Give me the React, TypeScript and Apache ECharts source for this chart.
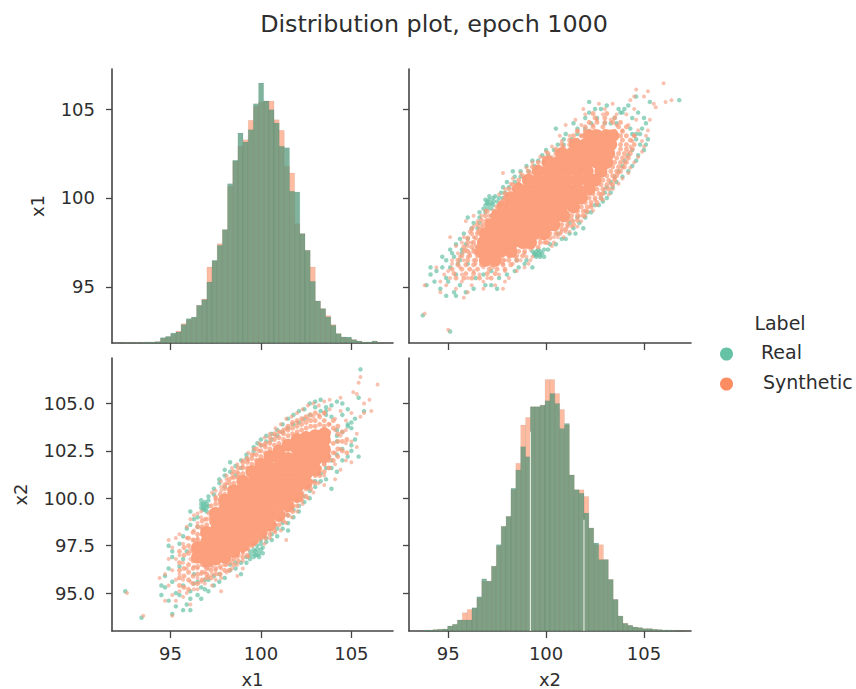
import React, { useEffect, useRef } from "react";
import * as echarts from "echarts";

const REAL = "#66c2a5";
const SYNTH = "#fc8d62";
const FONT = "DejaVu Sans";
const TEXT = "#2e2e2e";

const title = "Distribution plot, epoch 1000";
const legendTitle = "Label";
const legendLabels = ["Real", "Synthetic"];
const x1Ticks = [95, 100, 105];
const x2Ticks = [95, 100, 105];
const x1LeftTicks = [95, 100, 105];
const x2LeftTicks = [95, 97.5, 100, 102.5, 105];

// histogram of x1: first bin edge, bin width, counts
const x1BinStart = 92.163;
const x1BinWidth = 0.2854;
const x1RealCounts = [1, 2, 2, 2, 2, 3, 3, 4, 16, 20, 30, 33, 55, 73, 78, 113, 130, 183, 248, 293, 340, 478, 548, 630, 603, 640, 718, 780, 726, 700, 660, 590, 586, 455, 453, 328, 278, 185, 126, 103, 78, 53, 28, 18, 18, 10, 6, 3, 3, 6, 2];
const x1SynthCounts = [1, 2, 2, 2, 2, 3, 3, 4, 14, 18, 26, 36, 58, 70, 76, 113, 132, 228, 246, 298, 340, 470, 545, 590, 610, 668, 710, 723, 726, 726, 670, 638, 530, 510, 358, 328, 278, 228, 126, 103, 82, 55, 28, 18, 15, 10, 6, 3, 3, 6, 2];

// histogram of x2
const x2BinStart = 93.731;
const x2BinWidth = 0.2486;
const x2RealCounts = [3, 3, 4, 5, 6, 15, 20, 33, 33, 33, 70, 103, 157, 150, 195, 260, 315, 345, 430, 485, 555, 525, 675, 675, 680, 693, 715, 685, 610, 625, 470, 425, 415, 355, 310, 265, 215, 215, 155, 95, 45, 23, 17, 12, 10, 7, 7, 5, 4, 3, 3, 2, 1, 1];
const x2SynthCounts = [2, 3, 4, 5, 6, 15, 20, 33, 55, 65, 68, 100, 150, 150, 195, 255, 315, 345, 425, 505, 620, 643, 675, 675, 680, 757, 757, 715, 667, 620, 470, 425, 425, 405, 310, 260, 260, 215, 155, 95, 45, 23, 17, 12, 10, 7, 7, 5, 4, 3, 3, 2, 1, 1];
// empty slivers between bins of x2: [position, height]
const x2Slivers = [[99.2, 600], [101.935, 335]];

// scatter columns: first number is x1, the rest are x2 values
const realColumns = [
  [92.5, 95.1], [93.4, 93.7], [94.5, 95.4, 94.9], [94.7, 95.9, 95.3], [94.9, 96.3, 97.5, 94.6],
  [95.1, 93.9, 96.9, 95.6, 97.2], [95.3, 95.0, 94.3], [95.5, 97.6, 96.4, 94.9], [95.7, 98.0, 95.4, 94.1, 96.8],
  [95.9, 94.4, 97.2, 98.4], [96.1, 94.1, 95.1, 94.7, 99.3, 98.6], [96.3, 96.0, 95.5, 98.9], [96.5, 94.9, 95.6, 99.0, 98.5],
  [96.7, 94.7, 95.3, 99.5, 99.7, 99.9], [96.8, 99.5, 99.7, 99.4], [96.9, 99.6, 99.4, 99.8, 95.7, 95.2], [97.0, 99.5, 99.3, 99.7], [97.1, 99.9, 99.6, 95.1, 100.1, 95.7],
  [97.4, 100.2, 100.5, 95.4, 95.9], [97.7, 100.8, 101.0, 95.6, 96.0], [98.0, 101.2, 100.6, 101.5, 95.8],
  [98.3, 101.4, 101.9, 96.2, 96.5], [98.6, 101.7, 101.2, 96.3, 96.6], [98.9, 102.0, 101.6, 96.6, 96.0],
  [99.2, 102.3, 102.1, 96.9, 96.6], [99.4, 97.0, 97.2, 96.8], [99.6, 97.1, 96.9, 97.3, 102.5, 102.7],
  [99.7, 97.0, 97.2], [99.8, 97.0, 97.3, 97.5, 102.9], [99.9, 96.9, 97.1], [100.0, 97.3, 97.6, 97.8, 103.1, 102.8], [100.1, 97.1, 97.4], [100.3, 103.0, 103.3, 97.7, 97.9],
  [100.6, 103.4, 103.1, 98.1, 97.8], [100.9, 103.6, 103.3, 98.0, 98.4], [101.2, 103.9, 103.5, 98.4, 98.7],
  [101.5, 104.2, 103.7, 98.7, 98.3, 99.1], [101.8, 104.4, 103.9, 99.0, 99.4], [102.1, 104.6, 104.0, 99.3, 99.6],
  [102.4, 104.7, 104.2, 100.1, 99.8], [102.7, 105.0, 104.4, 100.4, 100.0], [103.0, 104.8, 105.1, 100.6, 100.9],
  [103.3, 104.6, 105.2, 100.9, 101.3], [103.6, 104.6, 104.4, 104.8, 101.0, 101.6], [103.9, 104.9, 104.3, 100.5, 101.6, 102.0],
  [104.2, 103.3, 103.0, 103.6, 105.1, 101.4, 102.3], [104.5, 103.5, 102.0, 102.6, 104.4, 105.0], [104.8, 103.8, 103.9, 102.2, 104.7],
  [105.0, 104.0, 103.7, 102.5, 102.8], [105.2, 104.2, 103.1], [105.4, 102.2, 105.3], [105.5, 106.8], [105.7, 104.6],
];
const synthColumns = [
  [92.6, 95.0], [93.5, 93.8], [94.4, 95.8], [94.7, 96.0, 94.6], [94.9, 95.4, 97.8, 96.8], [95.1, 96.2, 94.9, 97.4, 93.8],
  [95.3, 96.8, 95.7, 94.6, 97.9], [95.5, 96.0, 95.1, 97.0, 98.1], [95.7, 95.7, 94.8, 97.6, 96.6], [95.9, 96.3, 95.0, 98.5, 97.9],
  [96.1, 95.6, 94.4, 98.9, 97.3, 96.8], [96.3, 95.2, 96.4, 99.1, 98.3, 97.8], [96.5, 95.8, 95.2, 96.3, 98.7, 99.2, 97.9],
  [96.7, 96.0, 95.6, 98.4, 99.0, 99.3], [96.9, 96.1, 95.5, 96.4, 98.9], [97.1, 95.9, 96.3, 99.2],
  [97.3, 96.0, 95.4, 96.4, 100.3], [97.5, 96.2, 95.7, 100.1, 100.4, 99.9], [97.8, 96.3, 95.8, 95.1, 100.4, 100.9, 100.6],
  [98.1, 96.5, 96.1, 100.8, 101.2, 101.0], [98.4, 96.7, 96.3, 101.1, 101.6, 101.3], [98.7, 96.9, 96.5, 101.4, 101.8, 95.9],
  [99.0, 97.1, 96.7, 101.7, 102.0, 96.3], [99.3, 97.3, 96.9, 102.0, 102.4], [99.6, 97.6, 102.3, 102.6],
  [99.9, 97.8, 102.5, 102.9], [100.2, 98.0, 97.6, 102.8, 103.2], [100.5, 98.3, 97.9, 103.0, 103.4],
  [100.8, 98.6, 98.2, 103.3, 103.7], [101.1, 98.9, 98.3, 103.5, 103.9], [101.4, 99.2, 98.7, 103.7, 104.2, 97.8],
  [101.7, 99.5, 99.0, 103.9, 104.3], [102.0, 99.9, 99.3, 104.0, 104.5], [102.3, 100.3, 99.7, 104.1, 104.7],
  [102.6, 100.6, 100.0, 104.2, 104.9], [102.9, 100.9, 100.3, 104.3, 105.0], [103.2, 101.3, 100.8, 104.4, 104.9],
  [103.5, 101.8, 101.2, 104.5, 105.1, 100.7], [103.8, 102.2, 101.6, 103.9, 104.7, 105.2], [104.1, 102.4, 101.8, 103.6, 104.2, 101.0],
  [104.4, 102.6, 101.5, 103.3, 104.6, 105.3], [104.7, 102.9, 102.0, 103.6, 104.1], [105.0, 103.0, 101.9, 104.5],
  [105.1, 105.6], [105.3, 102.7, 103.4, 105.5], [105.4, 106.1], [105.5, 104.3, 106.4], [105.7, 105.0, 104.5], [106.0, 105.2], [106.1, 104.6], [106.45, 106.0],
];
// the crowded band of synthetic points right around the solid mass
const synthEdgeColumns = [
  [95.5, 95.4, 95.8, 96.2, 96.6, 97.2], [95.75, 95.3, 95.9, 96.3, 97.0, 97.4], [96.0, 95.2, 95.7, 96.1, 96.5, 97.1, 97.5, 97.9],
  [96.25, 95.5, 95.9, 96.3, 96.7, 97.2, 97.8, 98.2], [96.5, 95.5, 96.0, 96.4, 97.8, 98.1, 98.5], [96.75, 95.7, 96.1, 96.5, 98.1, 98.5, 98.8],
  [97.0, 95.8, 96.0, 96.3, 98.6, 98.9], [97.25, 95.8, 96.2, 96.5, 99.0, 99.3, 99.6], [97.5, 96.0, 96.3, 99.4, 99.7, 100.0],
  [97.75, 96.0, 96.4, 99.7, 99.9, 100.2], [98.0, 96.2, 96.5, 100.2, 100.5, 100.7], [98.25, 96.2, 96.6, 100.5, 100.8, 101.0],
  [98.5, 96.5, 96.8, 100.8, 101.1, 101.4], [98.75, 96.7, 97.0, 101.1, 101.3, 101.6], [99.0, 96.9, 97.2, 101.3, 101.6, 101.9],
  [99.25, 97.0, 97.4, 101.6, 101.9, 102.1], [99.5, 97.5, 101.8, 102.1, 102.3], [99.75, 97.7, 102.0, 102.3, 102.6],
  [100.0, 97.9, 98.0, 102.2, 102.5, 102.8], [100.25, 97.9, 98.2, 102.4, 102.7, 102.9], [100.5, 98.1, 98.4, 102.6, 102.9, 103.2],
  [100.75, 98.3, 98.6, 102.8, 103.1, 103.4], [101.0, 98.6, 98.9, 102.9, 103.2, 103.5], [101.25, 98.8, 99.1, 103.1, 103.4, 103.6],
  [101.5, 99.1, 99.4, 103.3, 103.6, 103.8], [101.75, 99.3, 99.6, 103.4, 103.7, 104.0], [102.0, 99.6, 99.9, 103.5, 103.8, 104.1],
  [102.25, 99.9, 100.2, 103.6, 103.9, 104.2], [102.5, 100.1, 100.5, 103.7, 104.0, 104.3], [102.75, 100.5, 100.9, 103.8, 104.1, 104.4],
  [103.0, 100.8, 101.2, 103.8, 104.1, 104.5], [103.25, 101.2, 101.6, 103.9, 104.3], [103.5, 101.4, 101.8, 102.0, 103.8, 104.1, 104.5],
  [103.75, 101.6, 102.0, 102.5, 103.0, 103.5, 103.9], [104.0, 102.0, 102.4, 102.9, 103.7, 104.1], [104.25, 102.2, 102.6, 103.0, 103.4, 103.8],
  [104.5, 102.5, 103.0, 103.5], [104.75, 102.4, 103.1],
];
// where the synthetic points pile up into a solid mass
const coreColumns = [
  [96.5, 96.9, 97.4], [97.0, 96.7, 97.2, 97.7, 98.2], [97.5, 96.8, 97.3, 97.8, 98.3, 98.8, 99.2],
  [98.0, 96.9, 97.4, 97.9, 98.4, 98.9, 99.4, 99.9], [98.5, 97.2, 97.7, 98.2, 98.7, 99.2, 99.7, 100.2, 100.4],
  [99.0, 97.5, 98.0, 98.5, 99.0, 99.5, 100.0, 100.5, 100.9], [99.5, 97.8, 98.3, 98.8, 99.3, 99.8, 100.3, 100.8, 101.4],
  [100.0, 98.2, 98.7, 99.2, 99.7, 100.2, 100.7, 101.2, 101.8], [100.5, 98.6, 99.1, 99.6, 100.1, 100.6, 101.1, 101.6, 102.2],
  [101.0, 99.1, 99.6, 100.1, 100.6, 101.1, 101.6, 102.1, 102.5], [101.5, 99.6, 100.1, 100.6, 101.1, 101.6, 102.1, 102.8],
  [102.0, 100.1, 100.6, 101.1, 101.6, 102.1, 102.6, 103.1], [102.5, 100.8, 101.3, 101.8, 102.3, 102.8, 103.2],
  [103.0, 101.5, 102.0, 102.5, 103.0, 103.3], [103.5, 102.2, 102.6, 103.1, 103.4],
];

const toPairs = (cols: number[][]) => cols.flatMap(([x1, ...rest]) => rest.map((x2) => [x1, x2]));
const realPoints = toPairs(realColumns);
const synthPoints = toPairs(synthColumns);
const edgePoints = toPairs(synthEdgeColumns);
const corePoints = toPairs(coreColumns);

const hist = (start: number, width: number, counts: number[]) =>
  counts.map((c, i) => [start + i * width, start + (i + 1) * width, c]);

const barRender = (fill: string) => (_: any, api: any) => {
  const a = api.coord([api.value(0), api.value(2)]);
  const b = api.coord([api.value(1), 0]);
  return {
    type: "rect",
    shape: { x: a[0], y: a[1], width: b[0] - a[0], height: b[1] - a[1] },
    style: { fill, stroke: "rgba(50,70,60,0.1)", lineWidth: 0.6 },
  };
};

const sliverRender = (_: any, api: any) => {
  const a = api.coord([api.value(0), api.value(1)]);
  const b = api.coord([api.value(0), 0]);
  return {
    type: "rect",
    shape: { x: a[0] - 0.6, y: a[1], width: 1.2, height: b[1] - a[1] },
    style: { fill: "rgba(235,240,230,0.9)" },
  };
};

const App = () => {
  const ref = useRef<HTMLDivElement>(null);
  useEffect(() => {
    const chart = echarts.init(ref.current!, null, { renderer: "svg" });
    const line = { show: true, onZero: false, lineStyle: { color: "#444", width: 1.6 } };
    const tickStyle = { color: "#444", width: 1.3 };
    const labelStyle = { color: TEXT, fontFamily: FONT, fontSize: 18 };
    const nameStyle = { color: TEXT, fontFamily: FONT, fontSize: 18 };

    const xAxisOf = (grid: number, min: number, max: number, ticks: number[], labels: boolean, name = "") => ({
      type: "value", gridIndex: grid, min, max, scale: true, name,
      nameLocation: "middle", nameGap: 39, nameTextStyle: nameStyle,
      axisLine: line, splitLine: { show: false },
      axisTick: { show: true, length: 7, lineStyle: tickStyle, customValues: ticks },
      axisLabel: { ...labelStyle, margin: 13, show: labels, customValues: ticks, hideOverlap: false },
    });
    const yAxisOf = (grid: number, min: number, max: number, ticks: number[], labels: boolean, name: string, gap: number, fmt?: (v: number) => string) => ({
      type: "value", gridIndex: grid, min, max, scale: true, name,
      nameLocation: "middle", nameGap: gap, nameTextStyle: nameStyle,
      axisLine: line, splitLine: { show: false },
      axisTick: { show: true, length: 6, lineStyle: tickStyle, customValues: ticks },
      axisLabel: { ...labelStyle, margin: 17, show: labels, customValues: ticks, hideOverlap: false, formatter: fmt },
    });
    const countAxis = (grid: number) => ({ type: "value", gridIndex: grid, min: 0, max: 822, show: false, position: "right" });

    const scatterSeries = (axis: number, encode: any) => [
      { type: "scatter", name: "Real", xAxisIndex: axis, yAxisIndex: axis, data: realPoints, encode, symbolSize: 4.5, silent: true,
        itemStyle: { color: REAL, opacity: 0.7 } },
      { type: "scatter", name: "Synthetic", xAxisIndex: axis, yAxisIndex: axis, data: corePoints, encode, symbolSize: 13, silent: true,
        itemStyle: { color: "#fb9f7c", opacity: 1 } },
      { type: "scatter", name: "Synthetic", xAxisIndex: axis, yAxisIndex: axis, data: edgePoints, encode, symbolSize: 5, silent: true,
        itemStyle: { color: "#fb9f7c", opacity: 0.75 } },
      { type: "scatter", name: "Synthetic", xAxisIndex: axis, yAxisIndex: axis, data: synthPoints, encode, symbolSize: 4, silent: true,
        itemStyle: { color: "#f59a7c", opacity: 0.6 } },
    ];

    chart.setOption({
      animation: false,
      backgroundColor: "#fff",
      tooltip: { show: false },
      grid: [
        { left: 112, top: 69, width: 281, height: 274 },
        { left: 409, top: 69, width: 282, height: 274 },
        { left: 112, top: 358, width: 281, height: 274 },
        { left: 409, top: 358, width: 282, height: 274 },
      ],
      xAxis: [
        xAxisOf(0, 91.77, 107.3, x1Ticks, false),
        xAxisOf(1, 93.0, 107.4, x2Ticks, false),
        xAxisOf(2, 91.77, 107.3, x1Ticks, true, "x1"),
        xAxisOf(3, 93.0, 107.4, x2Ticks, true, "x2"),
      ],
      yAxis: [
        yAxisOf(0, 91.85, 107.25, x1LeftTicks, true, "x1", 66),
        yAxisOf(1, 91.85, 107.25, x1LeftTicks, false, "", 0),
        yAxisOf(2, 93.0, 107.4, x2LeftTicks, true, "x2", 83, (v: number) => v.toFixed(1)),
        yAxisOf(3, 93.0, 107.4, x2LeftTicks, false, "", 0),
        countAxis(0),
        countAxis(3),
      ],
      series: [
        { type: "custom", name: "Synthetic", xAxisIndex: 0, yAxisIndex: 4, silent: true, renderItem: barRender("rgba(252,141,98,0.6)"), data: hist(x1BinStart, x1BinWidth, x1SynthCounts) },
        { type: "custom", name: "Real", xAxisIndex: 0, yAxisIndex: 4, silent: true, renderItem: barRender("rgba(78,150,120,0.72)"), data: hist(x1BinStart, x1BinWidth, x1RealCounts) },
        { type: "custom", name: "Synthetic", xAxisIndex: 3, yAxisIndex: 5, silent: true, renderItem: barRender("rgba(252,141,98,0.6)"), data: hist(x2BinStart, x2BinWidth, x2SynthCounts) },
        { type: "custom", name: "Real", xAxisIndex: 3, yAxisIndex: 5, silent: true, renderItem: barRender("rgba(78,150,120,0.72)"), data: hist(x2BinStart, x2BinWidth, x2RealCounts) },
        { type: "custom", name: "Gaps", xAxisIndex: 3, yAxisIndex: 5, silent: true, renderItem: sliverRender, data: x2Slivers },
        ...scatterSeries(1, { x: 1, y: 0 }),
        ...scatterSeries(2, { x: 0, y: 1 }),
      ],
      graphic: [
        { type: "text", x: 434, y: 24, style: { text: title, fontFamily: FONT, fontSize: 23.8, fill: TEXT, align: "center", verticalAlign: "middle" } },
        { type: "text", x: 780, y: 323, style: { text: legendTitle, fontFamily: FONT, fontSize: 19, fill: TEXT, align: "center", verticalAlign: "middle" } },
        { type: "circle", shape: { cx: 726.5, cy: 354, r: 6.5 }, style: { fill: REAL } },
        { type: "circle", shape: { cx: 726.5, cy: 384, r: 6.5 }, style: { fill: SYNTH } },
        { type: "text", x: 761, y: 352, style: { text: legendLabels[0], fontFamily: FONT, fontSize: 19, fill: TEXT, align: "left", verticalAlign: "middle" } },
        { type: "text", x: 763, y: 382, style: { text: legendLabels[1], fontFamily: FONT, fontSize: 19, fill: TEXT, align: "left", verticalAlign: "middle" } },
      ],
    });
    return () => chart.dispose();
  }, []);
  return <div ref={ref} style={{ position: "absolute", left: 0, top: 0, width: 856, height: 689 }} />;
};

export default App;
